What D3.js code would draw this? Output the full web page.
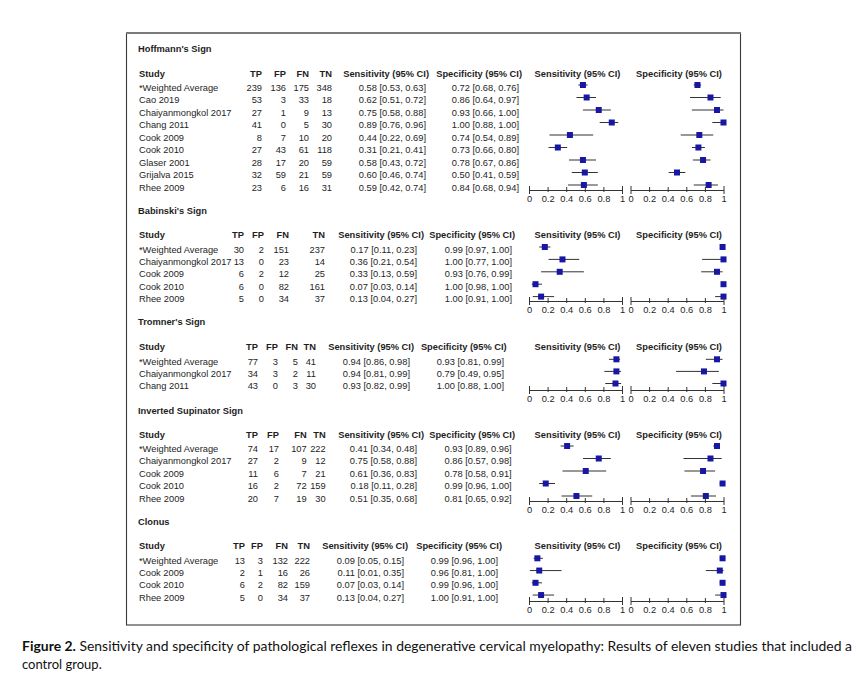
<!DOCTYPE html>
<html><head><meta charset="utf-8">
<script src="https://cdn.jsdelivr.net/npm/d3@7"></script>
<style>body{margin:0;background:#fff}</style>
</head><body>
<svg id="chart" width="863" height="678"></svg>
<script>
// ---------------- DATA ----------------
const sectionTitles = ["Hoffmann's Sign", "Babinski's Sign", "Tromner's Sign", "Inverted Supinator Sign", "Clonus"];
const columnHeaders = ["Study", "TP", "FP", "FN", "TN", "Sensitivity (95% CI)", "Specificity (95% CI)"];
const axisTicks = [0, 0.2, 0.4, 0.6, 0.8, 1];
const axisTickLabels = ["0", "0.2", "0.4", "0.6", "0.8", "1"];

const hoffmannStudies = ["*Weighted Average", "Cao 2019", "Chaiyanmongkol 2017", "Chang 2011", "Cook 2009", "Cook 2010", "Glaser 2001", "Grijalva 2015", "Rhee 2009"];
const hoffmannCounts = [[239,136,175,348],[53,3,33,18],[27,1,9,13],[41,0,5,30],[8,7,10,20],[27,43,61,118],[28,17,20,59],[32,59,21,59],[23,6,16,31]];
const hoffmannSens = [[0.58,0.53,0.63],[0.62,0.51,0.72],[0.75,0.58,0.88],[0.89,0.76,0.96],[0.44,0.22,0.69],[0.31,0.21,0.41],[0.58,0.43,0.72],[0.60,0.46,0.74],[0.59,0.42,0.74]];
const hoffmannSpec = [[0.72,0.68,0.76],[0.86,0.64,0.97],[0.93,0.66,1.00],[1.00,0.88,1.00],[0.74,0.54,0.89],[0.73,0.66,0.80],[0.78,0.67,0.86],[0.50,0.41,0.59],[0.84,0.68,0.94]];

const babinskiStudies = ["*Weighted Average", "Chaiyanmongkol 2017", "Cook 2009", "Cook 2010", "Rhee 2009"];
const babinskiCounts = [[30,2,151,237],[13,0,23,14],[6,2,12,25],[6,0,82,161],[5,0,34,37]];
const babinskiSens = [[0.17,0.11,0.23],[0.36,0.21,0.54],[0.33,0.13,0.59],[0.07,0.03,0.14],[0.13,0.04,0.27]];
const babinskiSpec = [[0.99,0.97,1.00],[1.00,0.77,1.00],[0.93,0.76,0.99],[1.00,0.98,1.00],[1.00,0.91,1.00]];

const tromnerStudies = ["*Weighted Average", "Chaiyanmongkol 2017", "Chang 2011"];
const tromnerCounts = [[77,3,5,41],[34,3,2,11],[43,0,3,30]];
const tromnerSens = [[0.94,0.86,0.98],[0.94,0.81,0.99],[0.93,0.82,0.99]];
const tromnerSpec = [[0.93,0.81,0.99],[0.79,0.49,0.95],[1.00,0.88,1.00]];

const supinatorStudies = ["*Weighted Average", "Chaiyanmongkol 2017", "Cook 2009", "Cook 2010", "Rhee 2009"];
const supinatorCounts = [[74,17,107,222],[27,2,9,12],[11,6,7,21],[16,2,72,159],[20,7,19,30]];
const supinatorSens = [[0.41,0.34,0.48],[0.75,0.58,0.88],[0.61,0.36,0.83],[0.18,0.11,0.28],[0.51,0.35,0.68]];
const supinatorSpec = [[0.93,0.89,0.96],[0.86,0.57,0.98],[0.78,0.58,0.91],[0.99,0.96,1.00],[0.81,0.65,0.92]];

const clonusStudies = ["*Weighted Average", "Cook 2009", "Cook 2010", "Rhee 2009"];
const clonusCounts = [[13,3,132,222],[2,1,16,26],[6,2,82,159],[5,0,34,37]];
const clonusSens = [[0.09,0.05,0.15],[0.11,0.01,0.35],[0.07,0.03,0.14],[0.13,0.04,0.27]];
const clonusSpec = [[0.99,0.96,1.00],[0.96,0.81,1.00],[0.99,0.96,1.00],[1.00,0.91,1.00]];

const captionBold = "Figure 2.";
const captionLine1 = " Sensitivity and specificity of pathological reflexes in degenerative cervical myelopathy: Results of eleven studies that included a";
const captionLine2 = "control group.";

// ---------------- LAYOUT ----------------
const sections = [
  {studies: hoffmannStudies, counts: hoffmannCounts, sens: hoffmannSens, spec: hoffmannSpec},
  {studies: babinskiStudies, counts: babinskiCounts, sens: babinskiSens, spec: babinskiSpec},
  {studies: tromnerStudies, counts: tromnerCounts, sens: tromnerSens, spec: tromnerSpec},
  {studies: supinatorStudies, counts: supinatorCounts, sens: supinatorSens, spec: supinatorSpec},
  {studies: clonusStudies, counts: clonusCounts, sens: clonusSens, spec: clonusSpec}
];
const layout = [
  {title:49, header:74, row0:85, step:12.5, axis:190, cols:[262,286,309,332], sensHdr:429, sensVal:426, specHdr:522, specVal:519},
  {title:210.7, header:234.5, row0:247, step:12.4, axis:301, cols:[244,264,289,325], sensHdr:424, sensVal:417, specHdr:515, specVal:512},
  {title:322, header:346.7, row0:359.3, step:12.1, axis:390, cols:[258,278,298,316], sensHdr:414, sensVal:410, specHdr:506.7, specVal:504},
  {title:410.7, header:434.5, row0:446, step:12.5, axis:501, cols:[258,279,306.7,325.7], sensHdr:424, sensVal:417, specHdr:515, specVal:511.7},
  {title:521.7, header:546, row0:558.3, step:12.25, axis:601, cols:[245,263,288,310], sensHdr:408, sensVal:404, specHdr:502, specVal:498}
];

const FONT = "'Liberation Sans', Arial, Helvetica, sans-serif";
const FS = 9.3;
const TEXT_COLOR = "#1e1e1e";
const MARK_COLOR = "#1717a3";
const base = c => c + 3.3; // cap-center -> baseline

const svg = d3.select("#chart");
svg.append("rect").attr("width", 863).attr("height", 678).attr("fill", "#fff");

// frame
svg.append("rect").attr("x", 126.5).attr("y", 33).attr("width", 614).attr("height", 592)
  .attr("fill", "none").attr("stroke", "#3a3a3a").attr("stroke-width", 1.1);
svg.append("line").attr("x1", 126).attr("x2", 741).attr("y1", 33).attr("y2", 33)
  .attr("stroke", "#7a7a7a").attr("stroke-width", 2);

const xSens = d3.scaleLinear().domain([0, 1]).range([529, 622]);
const xSpec = d3.scaleLinear().domain([0, 1]).range([630.5, 723.5]);
const fmt = d3.format(".2f");
const ci = v => `${fmt(v[0])} [${fmt(v[1])}, ${fmt(v[2])}]`;

const g = svg.append("g").attr("font-family", FONT).attr("font-size", FS).attr("fill", TEXT_COLOR);

sections.forEach((sec, si) => {
  const L = layout[si];
  const y = d3.scaleLinear().domain([0, 1]).range([L.row0, L.row0 + L.step]);
  const textY = i => base(y(i) + 2.3);

  // title
  g.append("text").attr("x", 138).attr("y", base(L.title)).attr("font-weight", "bold").text(sectionTitles[si]);

  // headers
  const hy = base(L.header);
  g.append("text").attr("x", 139).attr("y", hy).attr("font-weight", "bold").text(columnHeaders[0]);
  L.cols.forEach((cx, ci2) => {
    g.append("text").attr("x", cx).attr("y", hy).attr("text-anchor", "end").attr("font-weight", "bold").text(columnHeaders[ci2 + 1]);
  });
  g.append("text").attr("x", L.sensHdr).attr("y", hy).attr("text-anchor", "end").attr("font-weight", "bold").text(columnHeaders[5]);
  g.append("text").attr("x", L.specHdr).attr("y", hy).attr("text-anchor", "end").attr("font-weight", "bold").text(columnHeaders[6]);
  g.append("text").attr("x", (xSens(0) + xSens(1)) / 2 + 2).attr("y", hy).attr("text-anchor", "middle").attr("font-weight", "bold").text(columnHeaders[5]);
  g.append("text").attr("x", (xSpec(0) + xSpec(1)) / 2 + 2).attr("y", hy).attr("text-anchor", "middle").attr("font-weight", "bold").text(columnHeaders[6]);

  // rows
  sec.studies.forEach((st, i) => {
    g.append("text").attr("x", 139).attr("y", textY(i)).text(st);
    sec.counts[i].forEach((c, k) => {
      g.append("text").attr("x", L.cols[k]).attr("y", textY(i)).attr("text-anchor", "end").text(c);
    });
    g.append("text").attr("x", L.sensVal).attr("y", textY(i)).attr("text-anchor", "end").text(ci(sec.sens[i]));
    g.append("text").attr("x", L.specVal).attr("y", textY(i)).attr("text-anchor", "end").text(ci(sec.spec[i]));
  });

  // forest plots
  [[xSens, sec.sens], [xSpec, sec.spec]].forEach(([x, vals]) => {
    const pg = svg.append("g");
    pg.selectAll("line.ci").data(vals).join("line").attr("class", "ci")
      .attr("x1", d => x(d[1])).attr("x2", d => x(d[2]))
      .attr("y1", (d, i) => y(i)).attr("y2", (d, i) => y(i))
      .attr("stroke", "#333").attr("stroke-width", 1);
    pg.selectAll("rect.pt").data(vals).join("rect").attr("class", "pt")
      .attr("x", d => x(d[0]) - 3).attr("y", (d, i) => y(i) - 3)
      .attr("width", 6).attr("height", 6).attr("fill", MARK_COLOR);

    const ax = svg.append("g").attr("transform", `translate(0,${L.axis})`)
      .call(d3.axisBottom(x).tickValues(axisTicks).tickFormat((d, i) => axisTickLabels[i]).tickSizeOuter(0));
    ax.select(".domain").attr("stroke", "#333").attr("stroke-width", 1);
    ax.selectAll(".tick line").attr("stroke", "#333")
      .attr("y1", (d) => (d === 0 || d === 1) ? -4 : -3)
      .attr("y2", (d) => (d === 0 || d === 1) ? 4 : 2);
    ax.selectAll(".tick text").attr("y", 5).attr("dy", "0.71em")
      .attr("font-family", FONT).attr("font-size", FS).attr("fill", TEXT_COLOR);
  });
});

// caption
const cap = svg.append("g").attr("font-family", "Lato, 'Open Sans', sans-serif").attr("font-size", 13).attr("fill", "#111");
const t1 = cap.append("text").attr("x", 22).attr("y", 651).attr("textLength", 830).attr("lengthAdjust", "spacingAndGlyphs");
t1.append("tspan").attr("font-weight", "bold").text(captionBold);
t1.append("tspan").text(captionLine1);
cap.append("text").attr("x", 22).attr("y", 669).text(captionLine2);
</script>
</body></html>
